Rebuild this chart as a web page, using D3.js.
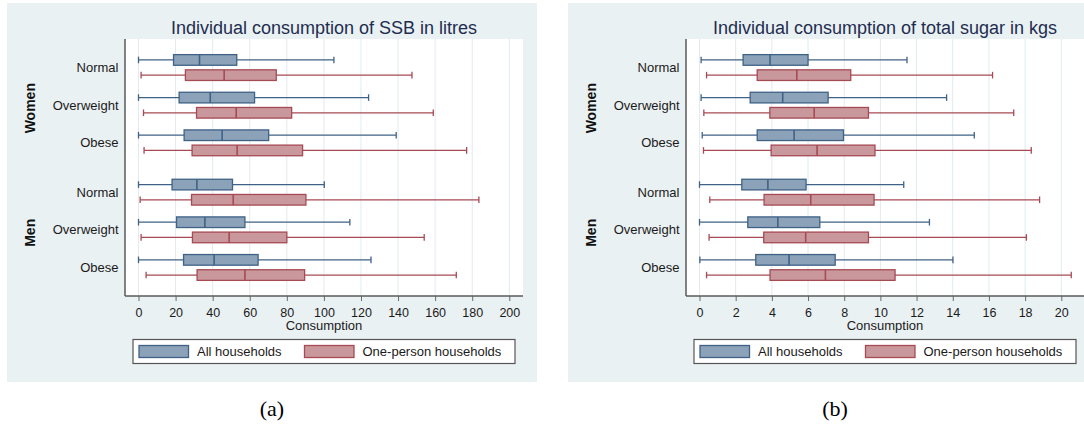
<!DOCTYPE html>
<html>
<head>
<meta charset="utf-8">
<script src="https://cdn.jsdelivr.net/npm/d3@7"></script>
<style>
  body { margin: 0; background: white; }
  text { font-family: "Liberation Sans", Arial, sans-serif; }
</style>
</head>
<body>
<script>
// categories
const groups = ["Women", "Men"];
const categories = ["Normal", "Overweight", "Obese"];
const seriesNames = ["All households", "One-person households"];

// [whisker low, q1, median, q3, whisker high], rows: Women N/Ow/Ob, Men N/Ow/Ob
const ssbAll = [
  [0, 18.9, 32.9, 53.0, 105.4],
  [0, 21.9, 38.7, 62.6, 124.1],
  [0, 24.6, 45.1, 70.2, 139.0],
  [0, 18.1, 31.5, 50.7, 100.2],
  [0, 20.5, 35.8, 57.4, 114.0],
  [0, 24.3, 40.8, 64.5, 125.4]
];
const ssbOne = [
  [1.4, 25.3, 46.2, 74.3, 147.5],
  [2.7, 31.3, 52.7, 82.6, 159.0],
  [3.0, 28.9, 53.2, 88.5, 177.0],
  [0.9, 28.6, 51.1, 90.3, 183.6],
  [1.4, 29.1, 48.9, 80.0, 154.1],
  [4.1, 31.6, 57.4, 89.6, 171.4]
];
const sugarAll = [
  [0.09, 2.41, 3.90, 6.00, 11.47],
  [0.09, 2.80, 4.60, 7.11, 13.66],
  [0.15, 3.19, 5.23, 7.96, 15.19],
  [0.00, 2.34, 3.78, 5.89, 11.29],
  [0.00, 2.67, 4.33, 6.65, 12.71],
  [0.02, 3.11, 4.95, 7.50, 14.01]
];
const sugarOne = [
  [0.39, 3.19, 5.38, 8.36, 16.20],
  [0.24, 3.89, 6.34, 9.34, 17.37],
  [0.22, 3.96, 6.50, 9.70, 18.34],
  [0.57, 3.57, 6.15, 9.65, 18.80],
  [0.53, 3.55, 5.87, 9.34, 18.07],
  [0.39, 3.90, 6.96, 10.81, 20.55]
];

// tick labels
const ssbTicks = [0, 20, 40, 60, 80, 100, 120, 140, 160, 180, 200];
const sugarTicks = [0, 2, 4, 6, 8, 10, 12, 14, 16, 18, 20];

const colors = {
  "All households": { fill: "#8ba2b8", stroke: "#3f6286" },
  "One-person households": { fill: "#c9989d", stroke: "#a64a54" }
};

const svg = d3.select("body")
              .append("svg")
              .attr("width", 1084)
              .attr("height", 427);

function drawPanel(x0, title, allData, oneData, ticks, caption, captionX) {
  const g = svg.append("g").attr("transform", `translate(${x0},0)`);

  const plotL = 118, plotT = 39, plotW = 398, plotB = 296;

  g.append("rect")
   .attr("x", 0).attr("y", 3)
   .attr("width", 530).attr("height", 379)
   .attr("fill", "#eaf1f3");

  g.append("rect")
   .attr("x", plotL).attr("y", plotT)
   .attr("width", plotW).attr("height", plotB - plotT)
   .attr("fill", "white");

  const last = ticks[ticks.length - 1];
  const x = d3.scaleLinear()
              .domain([0, last])
              .range([plotL + 13.5, plotL + (last === 200 ? 384.3 : 375.3)]);

  const outer = d3.scaleBand()
                  .domain(groups)
                  .range([plotT, plotB])
                  .paddingInner(0.094)
                  .paddingOuter(0.078);

  const inner = d3.scaleBand()
                  .domain(categories)
                  .range([0, outer.bandwidth()]);

  const sub = d3.scaleBand()
                .domain(seriesNames)
                .range([-15.2, 15.2])
                .paddingInner(0.3)
                .paddingOuter(0.15);

  // grid
  g.selectAll(".grid")
   .data(ticks)
   .enter()
   .append("line")
   .attr("x1", d => x(d)).attr("x2", d => x(d))
   .attr("y1", plotT).attr("y2", plotB)
   .attr("stroke", "#e1eaef")
   .attr("stroke-width", 1);

  // rows
  const rows = [];
  groups.forEach((grp, gi) => {
    categories.forEach((cat, ci) => {
      const i = gi * 3 + ci;
      const cy = outer(grp) + inner(cat) + inner.bandwidth() / 2;
      rows.push({ grp, cat, cy, series: seriesNames[0], v: allData[i] });
      rows.push({ grp, cat, cy, series: seriesNames[1], v: oneData[i] });
    });
  });

  const bh = sub.bandwidth();
  const box = g.selectAll(".box")
               .data(rows)
               .enter()
               .append("g")
               .attr("transform", d => `translate(0,${d.cy + sub(d.series) + bh / 2})`);

  box.append("line")
     .attr("x1", d => x(d.v[0])).attr("x2", d => x(d.v[4]))
     .attr("y1", 0).attr("y2", 0)
     .attr("stroke", d => colors[d.series].stroke)
     .attr("stroke-width", 1.3);

  box.selectAll(".cap")
     .data(d => [d.v[0], d.v[4]].map(v => ({ v, s: d.series })))
     .enter()
     .append("line")
     .attr("x1", d => x(d.v)).attr("x2", d => x(d.v))
     .attr("y1", -3.3).attr("y2", 3.3)
     .attr("stroke", d => colors[d.s].stroke)
     .attr("stroke-width", 1.3);

  box.append("rect")
     .attr("x", d => x(d.v[1]))
     .attr("width", d => x(d.v[3]) - x(d.v[1]))
     .attr("y", -bh / 2).attr("height", bh)
     .attr("fill", d => colors[d.series].fill)
     .attr("stroke", d => colors[d.series].stroke)
     .attr("stroke-width", 1.3);

  box.append("line")
     .attr("x1", d => x(d.v[2])).attr("x2", d => x(d.v[2]))
     .attr("y1", -bh / 2).attr("y2", bh / 2)
     .attr("stroke", d => colors[d.series].stroke)
     .attr("stroke-width", 1.6);

  // category labels
  g.selectAll(".cat")
   .data(rows.filter((d, i) => i % 2 === 0))
   .enter()
   .append("text")
   .attr("x", plotL - 6.5)
   .attr("y", d => d.cy)
   .attr("dy", "0.35em")
   .attr("text-anchor", "end")
   .attr("font-size", "13px")
   .attr("fill", "#1a1a1a")
   .text(d => d.cat);

  // group labels
  g.selectAll(".grp")
   .data(groups)
   .enter()
   .append("text")
   .attr("transform", d => `translate(23,${outer(d) + outer.bandwidth() / 2 + 3}) rotate(-90)`)
   .attr("dy", "0.35em")
   .attr("text-anchor", "middle")
   .attr("font-size", "14px")
   .attr("font-weight", "bold")
   .attr("fill", "#111")
   .text(d => d);

  // axes
  const xAxis = g.append("g")
                 .attr("transform", `translate(0,${plotB})`)
                 .call(d3.axisBottom(x).tickValues(ticks).tickSize(5).tickPadding(7));
  xAxis.select(".domain").remove();
  xAxis.selectAll(".tick line").attr("stroke", "#6a6a6a");
  xAxis.selectAll(".tick text")
       .attr("font-size", "12.5px")
       .attr("font-family", "Liberation Sans, Arial, sans-serif")
       .attr("fill", "#1a1a1a");

  g.append("line")
   .attr("x1", plotL).attr("x2", plotL + plotW)
   .attr("y1", plotB).attr("y2", plotB)
   .attr("stroke", "#5a5a5a").attr("stroke-width", 1.5);

  g.append("line")
   .attr("x1", plotL).attr("x2", plotL)
   .attr("y1", plotT).attr("y2", plotB)
   .attr("stroke", "#5a5a5a").attr("stroke-width", 1.5);

  g.append("text")
   .attr("x", plotL + plotW / 2)
   .attr("y", 330)
   .attr("text-anchor", "middle")
   .attr("font-size", "13px")
   .attr("fill", "#1a1a1a")
   .text("Consumption");

  // title
  g.append("text")
   .attr("x", plotL + plotW / 2)
   .attr("y", 34)
   .attr("text-anchor", "middle")
   .attr("font-size", "18px")
   .attr("fill", "#1e2d4f")
   .text(title);

  // legend
  const leg = g.append("g").attr("transform", "translate(126,339.5)");
  leg.append("rect")
     .attr("width", 382).attr("height", 24)
     .attr("fill", "white")
     .attr("stroke", "#555").attr("stroke-width", 1.2);

  const keyX = [6, 171.5];
  seriesNames.forEach((s, i) => {
    leg.append("rect")
       .attr("x", keyX[i]).attr("y", 6)
       .attr("width", 49.5).attr("height", 12)
       .attr("fill", colors[s].fill)
       .attr("stroke", colors[s].stroke)
       .attr("stroke-width", 1.3);
    leg.append("text")
       .attr("x", keyX[i] + 58)
       .attr("y", 12)
       .attr("dy", "0.35em")
       .attr("font-size", "13px")
       .attr("fill", "#1a1a1a")
       .text(s);
  });

  // caption
  svg.append("text")
     .attr("x", captionX)
     .attr("y", 416)
     .attr("text-anchor", "middle")
     .attr("font-family", "Liberation Serif, Times New Roman, serif")
     .style("font-family", "'Liberation Serif', 'Times New Roman', serif")
     .attr("font-size", "22px")
     .attr("fill", "#000")
     .text(caption);
}

drawPanel(7, "Individual consumption of SSB in litres", ssbAll, ssbOne, ssbTicks, "(a)", 272);
drawPanel(568, "Individual consumption of total sugar in kgs", sugarAll, sugarOne, sugarTicks, "(b)", 835);
</script>
</body>
</html>
